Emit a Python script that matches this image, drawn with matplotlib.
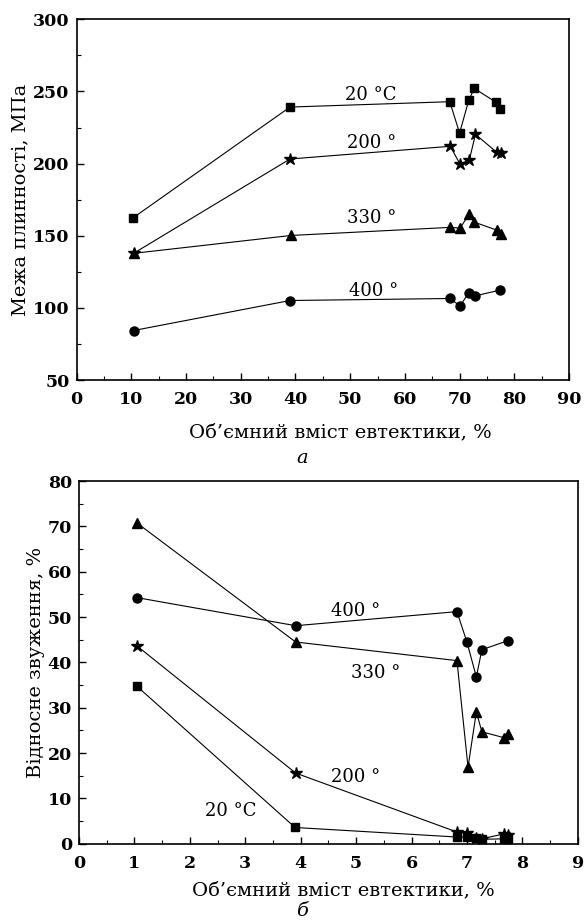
import numpy as np
import matplotlib
matplotlib.use('Agg')
import matplotlib.pyplot as plt
from matplotlib.ticker import MultipleLocator

plt.rcParams['font.family'] = ['DejaVu Serif']

# --- панель а: межа плинності ---
xa_20 = [10.3, 39.0, 68.2, 70.0, 71.7, 72.7, 76.7, 77.3]
ya_20 = [162.4, 239.2, 242.9, 221.2, 244.2, 252.1, 242.4, 238.0]
xa_200 = [10.4, 39.0, 68.3, 70.1, 71.8, 72.9, 76.8, 77.5]
ya_200 = [137.8, 203.2, 212.0, 199.5, 202.8, 220.3, 207.8, 207.4]
xa_330 = [10.4, 39.2, 68.3, 70.1, 71.8, 72.7, 76.8, 77.5]
ya_330 = [137.8, 150.2, 155.8, 155.3, 165.4, 159.4, 153.9, 150.9]
xa_400 = [10.4, 39.0, 68.2, 70.1, 71.7, 72.8, 77.3]
ya_400 = [84.3, 105.1, 106.5, 101.4, 110.6, 108.3, 112.2]

# --- панель б: відносне звуження ---
xb_20 = [1.04, 3.90, 6.82, 7.00, 7.17, 7.27, 7.67, 7.75]
yb_20 = [34.8, 3.6, 1.5, 1.5, 1.2, 1.0, 1.1, 1.1]
xb_200 = [1.04, 3.91, 6.82, 7.00, 7.17, 7.27, 7.67, 7.74]
yb_200 = [43.7, 15.6, 2.6, 2.3, 1.2, 1.1, 2.2, 2.0]
xb_330 = [1.04, 3.91, 6.82, 7.02, 7.17, 7.27, 7.67, 7.75]
yb_330 = [70.8, 44.5, 40.4, 16.9, 29.1, 24.7, 23.4, 24.2]
xb_400 = [1.04, 3.91, 6.82, 7.00, 7.17, 7.27, 7.74]
yb_400 = [54.3, 48.1, 51.2, 44.5, 36.8, 42.8, 44.8]

labels = ['20 °C', '200 °', '330 °', '400 °']

xlabel = 'Об’ємний вміст евтектики, %'

fig = plt.figure(figsize=(5.84, 9.21), dpi=100)
ax1 = fig.add_axes([0.1313, 0.5874, 0.843, 0.3916])
ax2 = fig.add_axes([0.1353, 0.0838, 0.854, 0.3939])


def draw(ax, x, y, marker, ms):
    ax.plot(x, y, marker=marker, markersize=ms, markerfacecolor='black',
            markeredgecolor='black', color='black', linewidth=0.8)


draw(ax1, xa_20, ya_20, 's', 6)
draw(ax1, xa_200, ya_200, '*', 9)
draw(ax1, xa_330, ya_330, '^', 7.5)
draw(ax1, xa_400, ya_400, 'o', 6.5)

draw(ax2, xb_20, yb_20, 's', 6)
draw(ax2, xb_200, yb_200, '*', 9)
draw(ax2, xb_330, yb_330, '^', 7.5)
draw(ax2, xb_400, yb_400, 'o', 6.5)

txt = dict(fontsize=13, ha='center', va='center')
ax1.text(53.8, 247.7, labels[0], **txt)
ax1.text(54.0, 214.0, labels[1], **txt)
ax1.text(54.0, 162.4, labels[2], **txt)
ax1.text(54.2, 112.0, labels[3], **txt)

ax2.text(2.74, 7.3, labels[0], **txt)
ax2.text(5.0, 14.7, labels[1], **txt)
ax2.text(5.36, 37.7, labels[2], **txt)
ax2.text(5.0, 51.3, labels[3], **txt)

ax1.set_xlim(0, 90)
ax1.set_ylim(50, 300)
ax1.xaxis.set_major_locator(MultipleLocator(10))
ax1.xaxis.set_minor_locator(MultipleLocator(5))
ax1.yaxis.set_major_locator(MultipleLocator(50))
ax1.yaxis.set_minor_locator(MultipleLocator(25))

ax2.set_xlim(0, 9)
ax2.set_ylim(0, 80)
ax2.xaxis.set_major_locator(MultipleLocator(1))
ax2.xaxis.set_minor_locator(MultipleLocator(0.5))
ax2.yaxis.set_major_locator(MultipleLocator(10))
ax2.yaxis.set_minor_locator(MultipleLocator(5))

for ax in (ax1, ax2):
    for s in ax.spines.values():
        s.set_linewidth(1.2)
    ax.tick_params(which='major', direction='in', length=5, width=1.0,
                   labelsize=12.5)
    ax.tick_params(which='minor', direction='in', length=3, width=0.8)
    ax.tick_params(axis='x', which='major', pad=8)
    ax.tick_params(axis='y', which='major', pad=5)
    for lab in ax.get_xticklabels() + ax.get_yticklabels():
        lab.set_fontweight('bold')

ax1.set_xlabel(xlabel, fontsize=14, va='center')
ax1.xaxis.set_label_coords(0.535, -0.144)
ax1.set_ylabel('Межа плинності, МПа', fontsize=14, labelpad=3)
ax2.set_xlabel(xlabel, fontsize=14, va='center')
ax2.xaxis.set_label_coords(0.531, -0.127)
ax2.set_ylabel('Відносне звуження, %', fontsize=14, labelpad=2)

fig.text(302 / 584, 1 - 458 / 921, 'а', fontsize=14,
         style='italic', ha='center', va='center')
fig.text(302 / 584, 1 - 911 / 921, 'б', fontsize=14,
         style='italic', ha='center', va='center')

fig.savefig('out.png', dpi=100)
